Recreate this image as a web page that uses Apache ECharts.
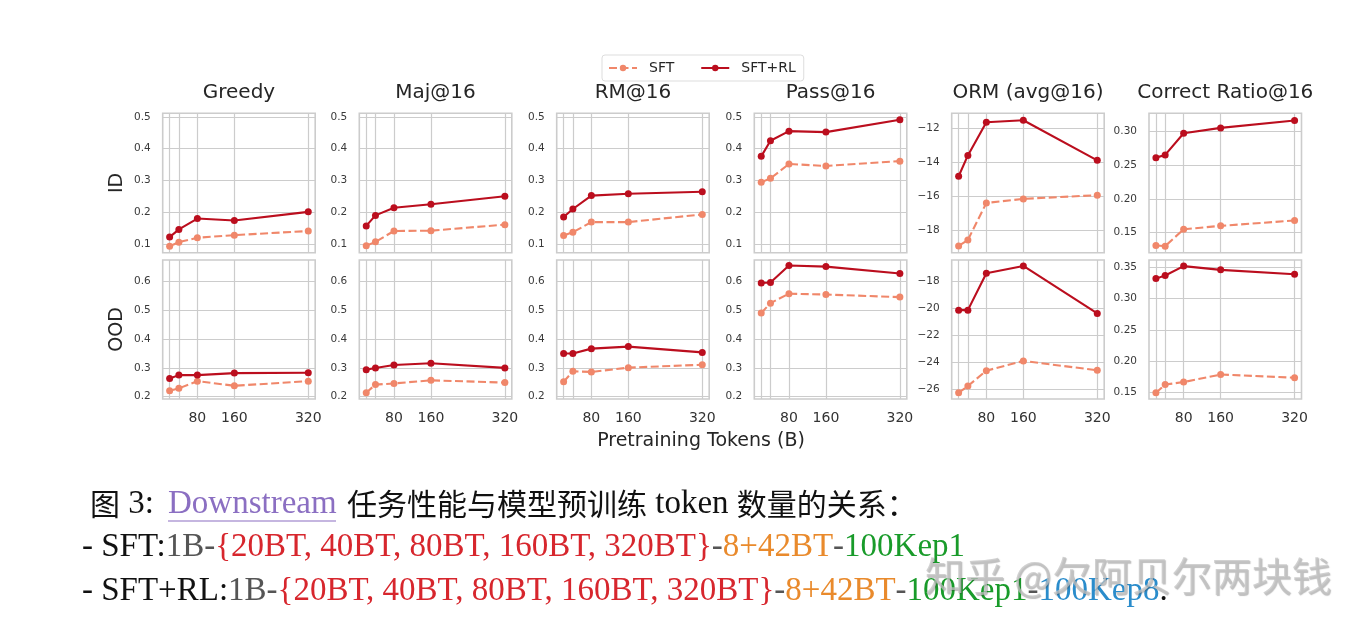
<!DOCTYPE html>
<html>
<head>
<meta charset="utf-8">
<script src="https://cdn.jsdelivr.net/npm/echarts@6/dist/echarts.min.js"></script>
<style>
html,body{margin:0;padding:0;background:#fff;}
#chart{width:1366px;height:628px;}
</style>
</head>
<body>
<div id="chart"></div>
<script>
// ---------- data ----------
const tokens = [20, 40, 80, 160, 320];
const xTickLabels = [80, 160, 320];

const metrics = ['Greedy', 'Maj@16', 'RM@16', 'Pass@16', 'ORM (avg@16)', 'Correct Ratio@16'];
const rowNames = ['ID', 'OOD'];
const seriesNames = ['SFT', 'SFT+RL'];

// ID row
const greedyIdSft = [0.094, 0.107, 0.121, 0.129, 0.142];
const greedyIdRl  = [0.123, 0.147, 0.181, 0.175, 0.202];
const majIdSft    = [0.096, 0.108, 0.142, 0.143, 0.162];
const majIdRl     = [0.158, 0.191, 0.215, 0.226, 0.251];
const rmIdSft     = [0.128, 0.138, 0.170, 0.170, 0.194];
const rmIdRl      = [0.186, 0.211, 0.253, 0.259, 0.265];
const passIdSft   = [0.295, 0.307, 0.352, 0.346, 0.361];
const passIdRl    = [0.376, 0.425, 0.455, 0.452, 0.491];
const ormIdSft    = [-18.93, -18.58, -16.40, -16.16, -15.94];
const ormIdRl     = [-14.83, -13.60, -11.65, -11.53, -13.89];
const crIdSft     = [0.131, 0.130, 0.155, 0.160, 0.168];
const crIdRl      = [0.261, 0.265, 0.297, 0.305, 0.316];

// OOD row
const greedyOodSft = [0.221, 0.229, 0.254, 0.238, 0.254];
const greedyOodRl  = [0.263, 0.275, 0.275, 0.282, 0.283];
const majOodSft    = [0.214, 0.242, 0.246, 0.257, 0.249];
const majOodRl     = [0.294, 0.300, 0.310, 0.316, 0.300];
const rmOodSft     = [0.252, 0.288, 0.286, 0.301, 0.311];
const rmOodRl      = [0.350, 0.350, 0.367, 0.374, 0.354];
const passOodSft   = [0.491, 0.525, 0.558, 0.555, 0.546];
const passOodRl    = [0.595, 0.597, 0.656, 0.652, 0.628];
const ormOodSft    = [-26.25, -25.75, -24.62, -23.90, -24.59];
const ormOodRl     = [-20.15, -20.15, -17.43, -16.89, -20.39];
const crOodSft     = [0.150, 0.163, 0.167, 0.179, 0.174];
const crOodRl      = [0.332, 0.337, 0.352, 0.346, 0.339];

// y tick values
const yTicksIdShared  = [0.1, 0.2, 0.3, 0.4, 0.5];
const yTicksOodShared = [0.2, 0.3, 0.4, 0.5, 0.6];
const yTicksOrmId     = [-18, -16, -14, -12];
const yTicksOrmOod    = [-26, -24, -22, -20, -18];
const yTicksCrId      = [0.15, 0.20, 0.25, 0.30];
const yTicksCrOod     = [0.15, 0.20, 0.25, 0.30, 0.35];

const panelData = [
  [[greedyIdSft, greedyIdRl], [majIdSft, majIdRl], [rmIdSft, rmIdRl], [passIdSft, passIdRl], [ormIdSft, ormIdRl], [crIdSft, crIdRl]],
  [[greedyOodSft, greedyOodRl], [majOodSft, majOodRl], [rmOodSft, rmOodRl], [passOodSft, passOodRl], [ormOodSft, ormOodRl], [crOodSft, crOodRl]]
];
const panelTicks = [
  [yTicksIdShared, yTicksIdShared, yTicksIdShared, yTicksIdShared, yTicksOrmId, yTicksCrId],
  [yTicksOodShared, yTicksOodShared, yTicksOodShared, yTicksOodShared, yTicksOrmOod, yTicksCrOod]
];
const panelRange = [
  [[0.074, 0.511], [0.074, 0.511], [0.074, 0.511], [0.074, 0.511], [-19.33, -11.12], [0.1203, 0.3266]],
  [[0.192, 0.675], [0.192, 0.675], [0.192, 0.675], [0.192, 0.675], [-26.71, -16.45], [0.140, 0.3617]]
];
const panelDecimals = [1, 1, 1, 1, 0, 2];

// ---------- layout ----------
const colLeft = [162.7, 359.3, 556.7, 754.3, 951.7, 1149];
const colWidth = 152.5;
const rowTop = [113.3, 260];
const rowHeight = [139.4, 139];

const SFT_COLOR = '#f0876a';
const RL_COLOR = '#bb0e1e';
const GRID_COLOR = '#cccccc';
const FONT = 'DejaVu Sans';

const grids = [], xAxes = [], yAxes = [], series = [];
let idx = 0;
for (let r = 0; r < 2; r++) {
  for (let c = 0; c < 6; c++) {
    grids.push({
      left: colLeft[c], top: rowTop[r], width: colWidth, height: rowHeight[r],
      show: true, borderColor: GRID_COLOR, borderWidth: 1.6, backgroundColor: '#fff',
      containLabel: false, outerBoundsMode: 'none'
    });
    xAxes.push({
      type: 'value', gridIndex: idx, min: 5, max: 335,
      axisLine: { show: false },
      axisTick: { show: false, customValues: tokens },
      axisLabel: {
        show: r === 1, customValues: xTickLabels, fontSize: 14, color: '#333',
        margin: 12, fontFamily: FONT
      },
      splitLine: { show: true, lineStyle: { color: GRID_COLOR, width: 1.2 } }
    });
    const dec = panelDecimals[c];
    yAxes.push({
      type: 'value', gridIndex: idx, min: panelRange[r][c][0], max: panelRange[r][c][1],
      axisLine: { show: false },
      axisTick: { show: false, customValues: panelTicks[r][c] },
      axisLabel: {
        customValues: panelTicks[r][c], fontSize: 10.5, color: '#3a3a3a', margin: 12, fontFamily: FONT,
        formatter: v => (dec === 0 ? String(Math.round(v)) : v.toFixed(dec)).replace('-', '\u2212')
      },
      splitLine: { show: true, lineStyle: { color: GRID_COLOR, width: 1.2 } }
    });
    const [sft, rl] = panelData[r][c];
    series.push({
      name: seriesNames[0], type: 'line', xAxisIndex: idx, yAxisIndex: idx,
      data: tokens.map((t, i) => [t, sft[i]]),
      symbol: 'circle', symbolSize: 7, clip: false,
      lineStyle: { color: SFT_COLOR, width: 2.1, type: [8, 3.5] },
      itemStyle: { color: SFT_COLOR }, z: 3, animation: false
    });
    series.push({
      name: seriesNames[1], type: 'line', xAxisIndex: idx, yAxisIndex: idx,
      data: tokens.map((t, i) => [t, rl[i]]),
      symbol: 'circle', symbolSize: 7, clip: false,
      lineStyle: { color: RL_COLOR, width: 2.1 },
      itemStyle: { color: RL_COLOR }, z: 4, animation: false
    });
    idx++;
  }
}

const graphics = [];
// titles
metrics.forEach((m, c) => {
  graphics.push({
    type: 'text', x: colLeft[c] + colWidth / 2, y: 93,
    style: { text: m, fill: '#262626', font: '20px "DejaVu Sans"', textAlign: 'center', textVerticalAlign: 'middle' }
  });
});
// row names
rowNames.forEach((n, r) => {
  graphics.push({
    type: 'text', x: 117, y: rowTop[r] + rowHeight[r] / 2, rotation: Math.PI / 2,
    style: { text: n, fill: '#262626', font: '19px "DejaVu Sans"', textAlign: 'center', textVerticalAlign: 'middle' }
  });
});
// x name
graphics.push({
  type: 'text', x: 701, y: 441,
  style: { text: 'Pretraining Tokens (B)', fill: '#262626', font: '19px "DejaVu Sans"', textAlign: 'center', textVerticalAlign: 'middle' }
});

// caption
const SERIF = '"Liberation Serif", "Noto Sans CJK SC"';
const CJK = '"Noto Sans CJK SC"';
const lat = (fill) => ({ fill: fill, fontSize: 33, fontFamily: SERIF });
const cjk = (fill) => ({ fill: fill, fontSize: 30, fontFamily: CJK });
const RED = '#d7262d', ORANGE = '#e98a2c', GREEN = '#199b2a', BLUE = '#2a8ccb', GRAY = '#555', BLACK = '#111';
const L1 = 504, L2 = 547, L3 = 591;
graphics.push({
  type: 'text', x: 90, y: L1, z: 10,
  style: {
    text: '{c|图}{l| 3:}', textVerticalAlign: 'middle',
    rich: { c: cjk(BLACK), l: lat(BLACK) }
  }
});
graphics.push({
  type: 'text', x: 168, y: L1, z: 10,
  style: { text: 'Downstream', fill: '#8b6fc2', fontSize: 33, fontFamily: SERIF, textVerticalAlign: 'middle' }
});
graphics.push({
  type: 'line', z: 10,
  shape: { x1: 168, y1: 521, x2: 336, y2: 521 },
  style: { stroke: '#8b6fc2', lineWidth: 1.2 }
});
graphics.push({
  type: 'text', x: 347, y: L1, z: 10,
  style: {
    text: '{c|任务性能与模型预训练}{l| token }{c|数量的关系：}', textVerticalAlign: 'middle',
    rich: { c: cjk(BLACK), l: lat(BLACK) }
  }
});
const capRich = { k: lat(BLACK), g: lat(GRAY), r: lat(RED), o: lat(ORANGE), gr: lat(GREEN), b: lat(BLUE) };
graphics.push({
  type: 'text', x: 82, y: L2, z: 10,
  style: {
    text: '{k|- SFT:}{g|1B-}{r|{20BT, 40BT, 80BT, 160BT, 320BT}}{g|-}{o|8+42BT}{g|-}{gr|100Kep1}',
    fill: RED, fontSize: 33, fontFamily: SERIF,
    textVerticalAlign: 'middle', rich: capRich
  }
});
graphics.push({
  type: 'text', x: 82, y: L3, z: 10,
  style: {
    text: '{k|- SFT+RL:}{g|1B-}{r|{20BT, 40BT, 80BT, 160BT, 320BT}}{g|-}{o|8+42BT}{g|-}{gr|100Kep1}{g|-}{b|100Kep8}{k|.}',
    fill: RED, fontSize: 33, fontFamily: SERIF,
    textVerticalAlign: 'middle', rich: capRich
  }
});
// watermark
graphics.push({
  type: 'text', x: 925, y: 576, z: 20,
  style: {
    text: '知乎 @欠阿贝尔两块钱', fill: 'rgba(195,195,195,0.75)', font: '40px "Noto Sans CJK SC"',
    textVerticalAlign: 'middle', textShadowColor: 'rgba(60,60,60,0.45)', textShadowBlur: 1,
    textShadowOffsetX: 1, textShadowOffsetY: 1
  }
});

const chart = echarts.init(document.getElementById('chart'), null, { renderer: 'canvas' });
chart.setOption({
  backgroundColor: '#ffffff',
  animation: false,
  legend: {
    data: seriesNames, left: 602, top: 55, orient: 'horizontal',
    itemWidth: 28, itemHeight: 8, itemGap: 26,
    padding: [6, 8, 6, 6],
    borderColor: '#dddddd', borderWidth: 1, borderRadius: 3, backgroundColor: '#fff',
    textStyle: { fontFamily: FONT, fontSize: 14, color: '#262626', padding: [0, 0, 0, 7] }
  },
  grid: grids,
  xAxis: xAxes,
  yAxis: yAxes,
  series: series,
  graphic: graphics
});
</script>
</body>
</html>
